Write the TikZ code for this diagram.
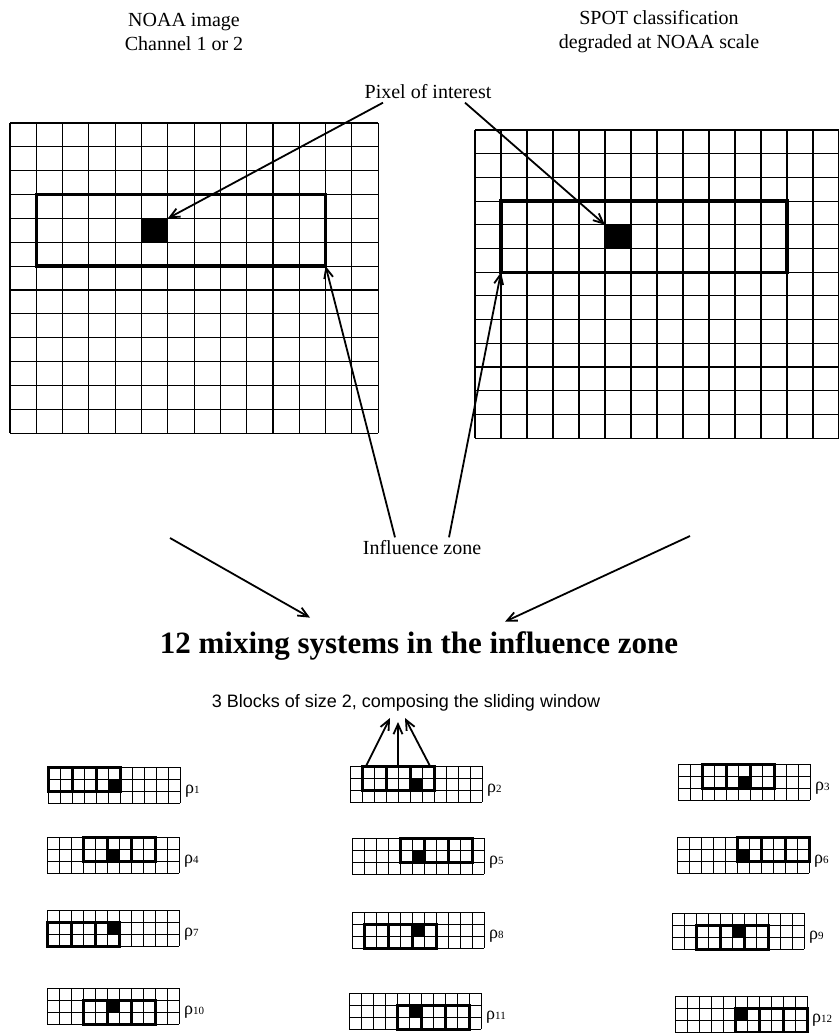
\documentclass[tikz,border=0pt]{standalone}
\usepackage{fontspec}
\setmainfont{Liberation Serif}
\setsansfont{Liberation Sans}
\usetikzlibrary{arrows.meta,positioning,calc}

% small influence zone: #1 name, #2 x, #3 y, #4 first window column, #5 window top row, #6 index
\newcommand{\minigrid}[6]{%
  \begin{scope}[shift={(#2,#3)}]
    \foreach \i in {0,...,11} \draw[minline] (\i*12,0) -- (\i*12,36);
    \foreach \j in {0,...,3} \draw[minline] (0,\j*12) -- (132,\j*12);
    \fill (60,12) rectangle (72,24);
    \draw[winline] (#4*12,#5*12) rectangle ++(72,24);
    \draw[winline] (#4*12+24,#5*12) -- ++(0,24) (#4*12+48,#5*12) -- ++(0,24);
    \coordinate (#1) at (0,0);
  \end{scope}
  \node[rholab, anchor=west] (#1lab) at (#2+137,#3+24) {ρ{\fontsize{11}{12}\selectfont #6}};
}

\begin{document}
\begin{tikzpicture}[
  x=1pt, y=-1pt,
  gridline/.style={line width=1.1pt},
  minline/.style={line width=0.9pt},
  winline/.style={line width=3pt},
  arr/.style={-{Straight Barb[length=10pt,width=9pt]}, line width=1.8pt},
  lab/.style={font=\fontsize{20}{24}\selectfont, align=center},
  rholab/.style={font=\fontsize{18}{20}\selectfont, inner sep=0pt},
]
\useasboundingbox (0,0) rectangle (838,1033);

% Titles
\node[lab] (noaa) at (184,32) {NOAA image\\Channel 1 or 2};
\node[lab] (spot) at (659,32) {SPOT classification\\degraded at NOAA scale};
\node[lab] (poi) at (428,92) {Pixel of interest};

% NOAA grid
\begin{scope}[shift={(10,123)}]
  \foreach \i in {0,...,14} \draw[gridline] (\i*26.3,0) -- (\i*26.3,310);
  \foreach \j in {0,...,13} \draw[gridline] (0,\j*23.85) -- (368.2,\j*23.85);
  \fill (5*26.3,4*23.85) rectangle ++(26.3,23.85);
  \draw[winline, line width=3.4pt] (26.3,3*23.85) rectangle (12*26.3,6*23.85);
  \coordinate (lpix) at (6*26.3,4*23.85);
  \coordinate (lzone) at (12*26.3,6*23.85);
\end{scope}

% SPOT grid
\begin{scope}[shift={(475,130)}]
  \foreach \i in {0,...,14} \draw[gridline] (\i*26,0) -- (\i*26,308);
  \foreach \j in {0,...,13} \draw[gridline] (0,\j*23.7) -- (364,\j*23.7);
  \fill (5*26,4*23.7) rectangle ++(26,23.7);
  \draw[winline, line width=3.4pt] (26,3*23.7) rectangle (12*26,6*23.7);
  \coordinate (rpix) at (5*26,4*23.7);
  \coordinate (rzone) at (26,6*23.7);
\end{scope}

\draw[arr] ([xshift=-45pt]poi.south) -- (lpix);
\draw[arr] ([xshift=37pt]poi.south) -- (rpix);

% Influence zone
\node[lab] (iz) at (422,548) {Influence zone};
\draw[arr] ([xshift=-27pt]iz.north) -- (lzone);
\draw[arr] ([xshift=27pt]iz.north) -- (rzone);

% Mixing systems
\node[font=\fontsize{31}{36}\selectfont\bfseries, anchor=base] (title) at (419,653) {12 mixing systems in the influence zone};
\coordinate (fromL) at (170,538);
\coordinate (fromR) at (690,536);
\draw[arr] (fromL) -- ([shift={(-109,-10)}]title.north);
\draw[arr] (fromR) -- ([shift={(86,-6)}]title.north);

\node[font=\sffamily\fontsize{18}{20}\selectfont, anchor=base] (blk) at (406,707) {3 Blocks of size 2, composing the sliding window};

\minigrid{g1}{48}{767}{0}{0}{1}
\minigrid{g2}{350}{766}{1}{0}{2}
\minigrid{g3}{678}{764}{2}{0}{3}
\minigrid{g4}{47}{837}{3}{0}{4}
\minigrid{g5}{352}{838}{4}{0}{5}
\minigrid{g6}{677}{837}{5}{0}{6}
\minigrid{g7}{47}{910}{0}{1}{7}
\minigrid{g8}{352}{912}{1}{1}{8}
\minigrid{g9}{672}{913}{2}{1}{9}
\minigrid{g10}{47}{988}{3}{1}{10}
\minigrid{g11}{349}{993}{4}{1}{11}
\minigrid{g12}{675}{996}{5}{1}{12}

\draw[arr] ([xshift=16pt]g2) -- ([shift={(-16,11)}]blk.base);
\draw[arr] ([xshift=48pt]g2) -- ([shift={(-8,15)}]blk.base);
\draw[arr] ([xshift=80pt]g2) -- ([shift={(-1,11)}]blk.base);

\end{tikzpicture}
\end{document}
